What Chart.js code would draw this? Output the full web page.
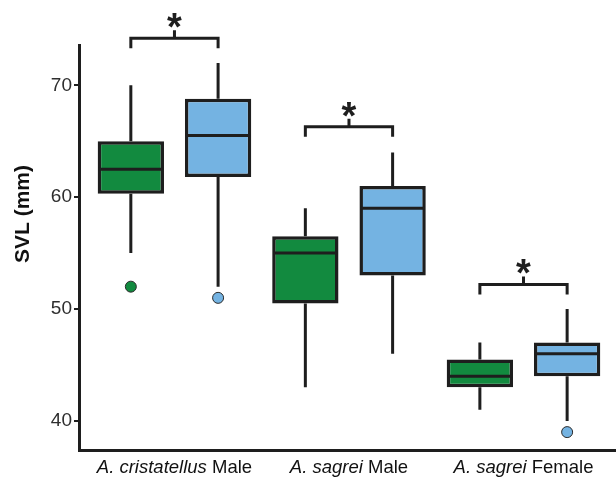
<!DOCTYPE html>
<html>
<head>
<meta charset="utf-8">
<script src="https://cdn.jsdelivr.net/npm/chart.js@4.4.1/dist/chart.umd.min.js"></script>
<style>
  html, body { margin: 0; padding: 0; background: #fff; }
  #wrap { width: 616px; height: 478px; }
</style>
</head>
<body>
<div id="wrap"><canvas id="chart"></canvas></div>
<script>
// groups on the x axis (species in italics, sex in roman)
const species = ['A. cristatellus', 'A. sagrei', 'A. sagrei'];
const sexes   = ['Male', 'Male', 'Female'];

// green boxes
const greenMin = [55.0, 43.0, 41.0];
const greenQ1  = [60.3, 50.5, 43.0];
const greenMed = [62.5, 55.0, 44.0];
const greenQ3  = [65.0, 56.5, 45.5];
const greenMax = [70.0, 59.0, 47.0];
const greenOut = [[52.0], [], []];

// blue boxes
const blueMin = [52.0, 46.0, 40.0];
const blueQ1  = [61.8, 53.0, 44.0];
const blueMed = [65.5, 59.0, 46.0];
const blueQ3  = [68.8, 61.0, 47.0];
const blueMax = [72.0, 64.0, 50.0];
const blueOut = [[51.0], [], [39.0]];

// significance brackets
const bracketY = [74.2, 66.3, 52.2];
const yTicks   = [40, 50, 60, 70];

const GREEN = '#128a3f';
const BLUE  = '#74b3e2';
const INK   = '#1e1e1e';
const FONT  = '"Liberation Sans", Arial, sans-serif';

const stats = [
  { min: greenMin, med: greenMed, max: greenMax, out: greenOut, color: GREEN },
  { min: blueMin,  med: blueMed,  max: blueMax,  out: blueOut,  color: BLUE },
];

function boxData(q1, q3) {
  return q1.map((v, i) => ({ x: i, y: [v, q3[i]] }));
}

const boxExtras = {
  id: 'boxExtras',
  beforeDatasetsDraw(chart) {
    const ctx = chart.ctx;
    const y = chart.scales.y;
    ctx.save();
    ctx.strokeStyle = INK;
    ctx.lineWidth = 3;
    stats.forEach((s, d) => {
      const meta = chart.getDatasetMeta(d);
      meta.data.forEach((el, i) => {
        const [lo, hi] = chart.data.datasets[d].data[i].y;
        ctx.beginPath();
        ctx.moveTo(el.x, y.getPixelForValue(hi));
        ctx.lineTo(el.x, y.getPixelForValue(s.max[i]));
        ctx.moveTo(el.x, y.getPixelForValue(lo));
        ctx.lineTo(el.x, y.getPixelForValue(s.min[i]));
        ctx.stroke();
      });
    });
    ctx.restore();
  },
  afterDatasetsDraw(chart) {
    const ctx = chart.ctx;
    const x = chart.scales.x;
    const y = chart.scales.y;
    ctx.save();

    // medians and outliers
    stats.forEach((s, d) => {
      const meta = chart.getDatasetMeta(d);
      meta.data.forEach((el, i) => {
        const my = y.getPixelForValue(s.med[i]);
        ctx.strokeStyle = INK;
        ctx.lineWidth = 3;
        ctx.beginPath();
        ctx.moveTo(el.x - el.width / 2 + 1, my);
        ctx.lineTo(el.x + el.width / 2 - 1, my);
        ctx.stroke();

        s.out[i].forEach(v => {
          ctx.beginPath();
          ctx.arc(el.x, y.getPixelForValue(v), 5.5, 0, Math.PI * 2);
          ctx.fillStyle = s.color;
          ctx.fill();
          ctx.lineWidth = 1;
          ctx.strokeStyle = '#2b2b2b';
          ctx.stroke();
        });
      });
    });

    // brackets with stars
    const g = chart.getDatasetMeta(0).data;
    const b = chart.getDatasetMeta(1).data;
    bracketY.forEach((v, i) => {
      const by = y.getPixelForValue(v);
      const x0 = g[i].x, x1 = b[i].x, cx = (x0 + x1) / 2;
      ctx.strokeStyle = INK;
      ctx.lineWidth = 3;
      ctx.beginPath();
      ctx.moveTo(x0, by + 10);
      ctx.lineTo(x0, by);
      ctx.lineTo(x1, by);
      ctx.lineTo(x1, by + 10);
      ctx.moveTo(cx, by);
      ctx.lineTo(cx, by - 8);
      ctx.stroke();
      ctx.fillStyle = INK;
      ctx.font = 'bold 38px ' + FONT;
      ctx.textAlign = 'center';
      ctx.textBaseline = 'alphabetic';
      ctx.fillText('*', cx, by + 2);
    });

    // x labels: italic species + roman sex
    ctx.fillStyle = '#111';
    ctx.textBaseline = 'middle';
    ctx.textAlign = 'left';
    const ly = chart.chartArea.bottom + 18;
    const fs = 18.5;
    species.forEach((sp, i) => {
      const cx = x.getPixelForValue(i);
      ctx.font = `italic ${fs}px ` + FONT;
      const w1 = ctx.measureText(sp + ' ').width;
      ctx.font = `${fs}px ` + FONT;
      const w2 = ctx.measureText(sexes[i]).width;
      const sx = cx - (w1 + w2) / 2;
      ctx.font = `italic ${fs}px ` + FONT;
      ctx.fillText(sp + ' ', sx, ly);
      ctx.font = `${fs}px ` + FONT;
      ctx.fillText(sexes[i], sx + w1, ly);
    });

    // y axis title
    ctx.translate(23, 214);
    ctx.rotate(-Math.PI / 2);
    ctx.textAlign = 'center';
    ctx.font = 'bold 21px ' + FONT;
    ctx.fillStyle = '#111';
    ctx.fillText('SVL (mm)', 0, 0);

    ctx.restore();
  }
};

new Chart(document.getElementById('chart'), {
  type: 'bar',
  data: {
    datasets: [
      {
        data: boxData(greenQ1, greenQ3),
        backgroundColor: GREEN,
        borderColor: INK,
        borderWidth: 3.5,
        borderSkipped: false,
      },
      {
        data: boxData(blueQ1, blueQ3),
        backgroundColor: BLUE,
        borderColor: INK,
        borderWidth: 3.5,
        borderSkipped: false,
      },
    ],
  },
  options: {
    responsive: true,
    maintainAspectRatio: false,
    animation: false,
    events: [],
    categoryPercentage: 1.0,
    barPercentage: 0.76,
    layout: { padding: { top: 45, left: 0, right: 0, bottom: 0 } },
    plugins: {
      legend: { display: false },
      tooltip: { enabled: false },
    },
    scales: {
      x: {
        type: 'linear',
        offset: false,
        min: -0.547,
        max: 2.53,
        afterBuildTicks: s => { s.ticks = species.map((_, i) => ({ value: i })); },
        afterFit: s => { s.height = 28; },
        ticks: { display: false },
        grid: { display: false },
        border: { display: true, color: INK, width: 3 },
      },
      y: {
        min: 37.4,
        max: 73.6,
        afterBuildTicks: s => { s.ticks = yTicks.map(v => ({ value: v })); },
        afterFit: s => { s.width = 79; },
        ticks: {
          color: '#2e2e2e',
          padding: 2,
          font: { family: FONT, size: 19 },
        },
        grid: {
          display: true,
          drawOnChartArea: false,
          drawTicks: true,
          tickLength: 5,
          color: INK,
          lineWidth: 2,
        },
        border: { display: true, color: INK, width: 3 },
      },
    },
  },
  plugins: [boxExtras],
});
</script>
</body>
</html>
